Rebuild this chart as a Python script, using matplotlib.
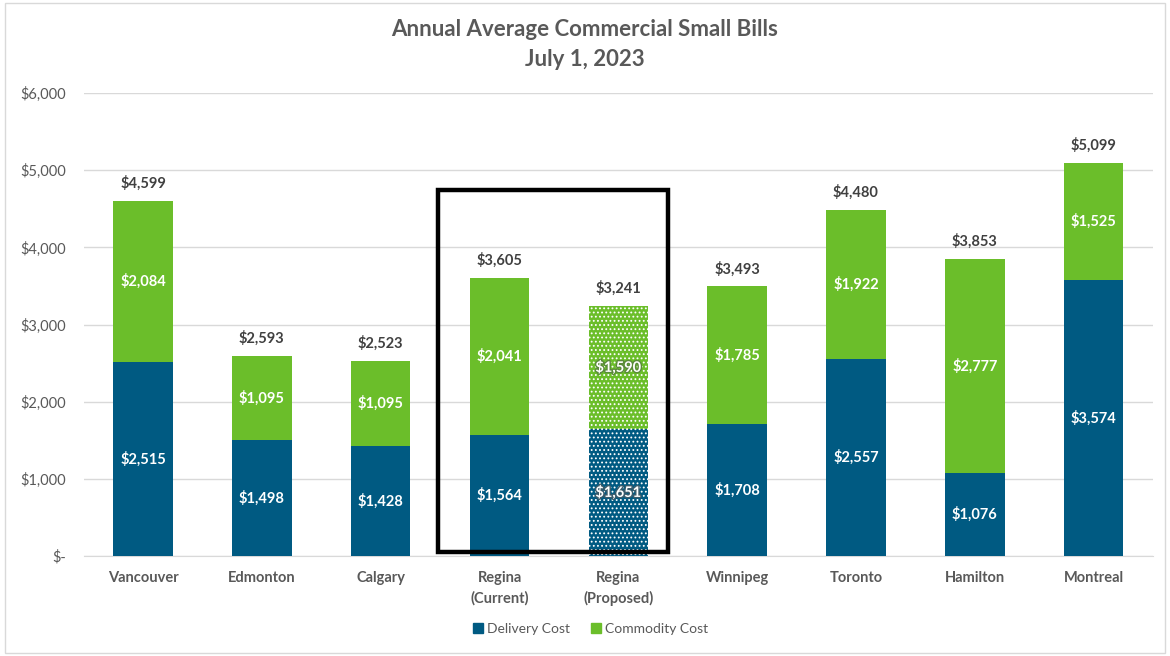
import matplotlib
matplotlib.use("Agg")
import matplotlib.pyplot as plt
import matplotlib.patheffects as pe
from matplotlib.patches import Rectangle
import numpy as np

# Bill components by city ($ per year)
cities = ["Vancouver", "Edmonton", "Calgary", "Regina\n(Current)", "Regina\n(Proposed)",
          "Winnipeg", "Toronto", "Hamilton", "Montreal"]
delivery = [2515, 1498, 1428, 1564, 1651, 1708, 2557, 1076, 3574]
commodity = [2084, 1095, 1095, 2041, 1590, 1785, 1922, 2777, 1525]
totals = [4599, 2593, 2523, 3605, 3241, 3493, 4480, 3853, 5099]
proposed = [False, False, False, False, True, False, False, False, False]

BLUE = "#005A82"
GREEN = "#6BBE2A"
GRAY = "#595959"

plt.rcParams["font.family"] = ["Lato", "DejaVu Sans"]
plt.rcParams["hatch.linewidth"] = 0.8

fig = plt.figure(figsize=(11.7, 6.56), dpi=100)
ax = fig.add_axes([0.0715, 0.1524, 0.914, 0.7058])

x = np.arange(len(cities))
w = 0.5
for i in x:
    hatch = "...." if proposed[i] else None
    ax.bar(i, delivery[i], w, color=BLUE, edgecolor="white" if hatch else BLUE,
           hatch=hatch, linewidth=0, zorder=3)
    ax.bar(i, commodity[i], w, bottom=delivery[i], color=GREEN,
           edgecolor="white" if hatch else GREEN, hatch=hatch, linewidth=0, zorder=3)
    # dotted bars get an outline on their labels so they stay readable
    fx_d = [pe.withStroke(linewidth=2, foreground="#3A5A6A")] if hatch else None
    fx_c = [pe.withStroke(linewidth=2, foreground="#5A8A3A")] if hatch else None
    ax.text(i, delivery[i] / 2, f"${delivery[i]:,}", ha="center", va="center",
            color="white", fontsize=10.5, fontweight="bold", zorder=4, path_effects=fx_d)
    ax.text(i, delivery[i] + commodity[i] / 2, f"${commodity[i]:,}", ha="center", va="center",
            color="white", fontsize=10.5, fontweight="bold", zorder=4, path_effects=fx_c)
    ax.text(i, totals[i] + 230, f"${totals[i]:,}", ha="center", va="center",
            color="#404040", fontsize=10.5, fontweight="bold", zorder=4)

# box around the two Regina bars
ax.add_patch(Rectangle((2.48, 50), 1.935, 4690, fill=False, edgecolor="black",
                       linewidth=3.2, zorder=5, clip_on=False))

ax.set_xlim(-0.5, len(cities) - 0.5)
ax.set_ylim(0, 6000)
ax.set_yticks(range(0, 7000, 1000))
ax.set_yticklabels(["$-" if v == 0 else f"${v:,}" for v in range(0, 7000, 1000)])
ax.set_xticks(x)
ax.set_xticklabels(cities, fontweight="bold", linespacing=1.5)
ax.tick_params(axis="y", length=0, pad=13, labelsize=10.5, labelcolor=GRAY)
ax.tick_params(axis="x", length=0, pad=11, labelsize=10.5, labelcolor=GRAY)
ax.grid(axis="y", color="#D9D9D9", linewidth=1, zorder=0)
for s in ["top", "right", "left"]:
    ax.spines[s].set_visible(False)
ax.spines["bottom"].set_color("#D9D9D9")

fig.text(0.5, 0.955, "Annual Average Commercial Small Bills", ha="center", va="center",
         fontsize=16, fontweight="bold", color=GRAY)
fig.text(0.5, 0.91, "July 1, 2023", ha="center", va="center",
         fontsize=16, fontweight="bold", color=GRAY)

handles = [Rectangle((0, 0), 1, 1, color=BLUE), Rectangle((0, 0), 1, 1, color=GREEN)]
fig.legend(handles, ["Delivery Cost", "Commodity Cost"], loc="center",
           bbox_to_anchor=(0.505, 0.041), ncol=2, frameon=False, fontsize=10,
           handlelength=0.7, handleheight=0.7, handletextpad=0.3, columnspacing=1.5,
           labelcolor=GRAY)

fig.add_artist(Rectangle((0.004, 0.004), 0.992, 0.992, transform=fig.transFigure,
                         fill=False, edgecolor="#D9D9D9", linewidth=1))

fig.savefig("out.png", dpi=100)
